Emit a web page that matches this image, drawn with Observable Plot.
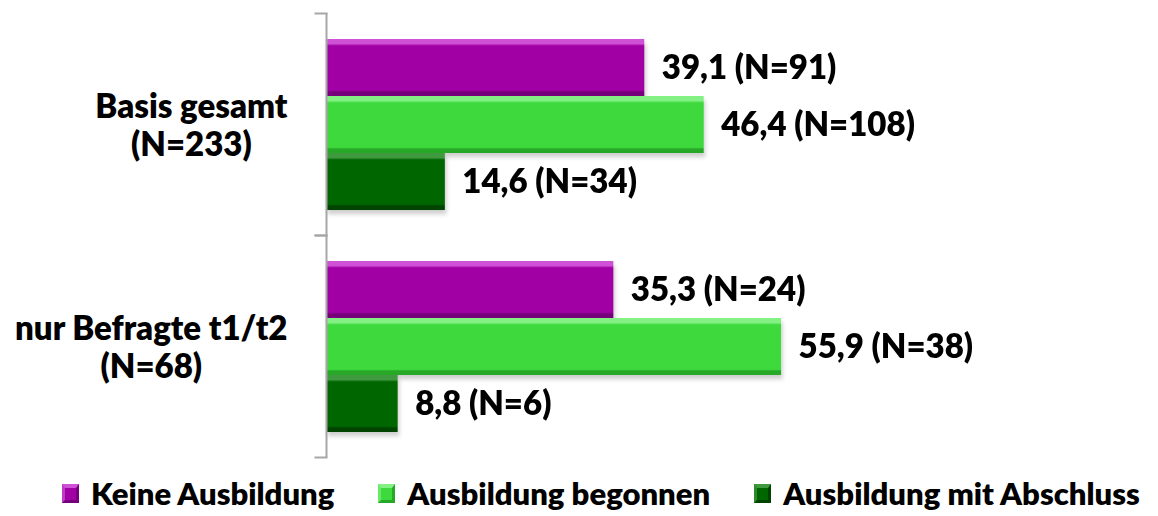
<!DOCTYPE html>
<html><head><meta charset="utf-8">
<script src="https://cdn.jsdelivr.net/npm/d3@7"></script>
<script src="https://cdn.jsdelivr.net/npm/@observablehq/plot@0.6"></script>
<style>
body{margin:0;background:#fff;font-family:Lato,"Open Sans",sans-serif;}
#chart{width:1158px;height:470px;}
#legend{display:flex;align-items:center;height:46px;padding-left:62px;gap:44px;font-weight:800;font-size:31px;color:#000;white-space:nowrap;width:1158px;box-sizing:border-box;}
.item{display:flex;align-items:center;gap:12px;flex-shrink:0;}
.sw{box-sizing:border-box;width:17px;height:19px;border-style:solid;border-width:4px 3px 3px 3px;flex-shrink:0;}
</style></head><body>
<div id="chart"></div>
<div id="legend"></div>
<script>
// ---- data ----
const categories = ["Basis gesamt (N=233)", "nur Befragte t1/t2 (N=68)"];
const categoryLines = [["Basis gesamt", "(N=233)"], ["nur Befragte t1/t2", "(N=68)"]];
const series = ["Keine Ausbildung", "Ausbildung begonnen", "Ausbildung mit Abschluss"];
const percentBasis = [39.1, 46.4, 14.6];
const countBasis = [91, 108, 34];
const percentT12 = [35.3, 55.9, 8.8];
const countT12 = [24, 38, 6];

// ---- styles ----
const colors = {
  base: ["#a100a4", "#3dd93d", "#006600"],
  light: ["#cf52d6", "#84f184", "#3f993f"],
  dark: ["#75007a", "#27a827", "#004400"],
  side: ["#c23ac8", "#6ae86a", "#2f8a2f"]
};

const rows = [];
[[percentBasis, countBasis], [percentT12, countT12]].forEach(([p, n], ci) => {
  series.forEach((s, si) => rows.push({category: categories[ci], series: s, si, value: p[si], n: n[si]}));
});

const fmt = v => v.toFixed(1).replace(".", ",");
const gradIds = series.map((s, i) => "grad" + i);
const FS = 33;

const plot = Plot.plot({
  width: 1158, height: 470,
  marginLeft: 326, marginRight: 18, marginTop: 13, marginBottom: 13,
  style: {fontFamily: "Lato, 'Open Sans', sans-serif", background: "#fff", color: "#000"},
  x: {domain: [0, 100], axis: null},
  y: {domain: series, axis: null, paddingInner: 0, paddingOuter: 0.425},
  fy: {domain: categories, padding: 0, label: null, axis: null},
  color: {type: "ordinal", domain: series, range: gradIds.map(id => `url(#${id})`)},
  marks: [
    Plot.barX(rows, {fy: "category", y: "series", x: "value", fill: "#000", fillOpacity: 0.10, dx: 2, dy: 5, ariaDescription: "shadow"}),
    Plot.barX(rows, {fy: "category", y: "series", x: "value", fill: "#000", fillOpacity: 0.10, dx: 1, dy: 3, ariaDescription: "shadow"}),
    Plot.barX(rows, {fy: "category", y: "series", x: "value", fill: "series"}),
    Plot.ruleX(rows, {fy: "category", y: "series", x: () => 0, dx: 3, strokeWidth: 5, stroke: d => colors.side[d.si], strokeOpacity: 0.6, insetTop: 5, insetBottom: 3}),
    Plot.ruleX(rows, {fy: "category", y: "series", x: "value", dx: -2.5, strokeWidth: 5, stroke: d => colors.dark[d.si], strokeOpacity: 0.7, insetTop: 5, insetBottom: 3}),
    Plot.ruleX([0], {stroke: "#a6a6a6", strokeWidth: 2}),
    Plot.frame({anchor: "top", stroke: "#a6a6a6", strokeWidth: 2, insetLeft: -11, insetRight: 814}),
    Plot.frame({anchor: "bottom", stroke: "#a6a6a6", strokeWidth: 2, insetLeft: -11, insetRight: 814}),
    Plot.text(rows, {fy: "category", y: "series", x: "value", text: d => `${fmt(d.value)} (N=${d.n})`, dx: 17, textAnchor: "start", fontSize: FS, fontWeight: 800, fill: "#000"}),
    Plot.axisFy({anchor: "left", tickSize: 0, tickPadding: 39, fontSize: FS, fontWeight: 800, lineHeight: 1.18, fill: "#000", label: null,
      tickFormat: c => categoryLines[categories.indexOf(c)].join("\n"), ariaDescription: "catlabels"})
  ]
});

document.getElementById("chart").appendChild(plot);

// gradient defs (vertical bevel shading)
const svg = d3.select(plot);
const defs = svg.insert("defs", ":first-child");
series.forEach((s, i) => {
  const g = defs.append("linearGradient").attr("id", gradIds[i]).attr("x1", 0).attr("y1", 0).attr("x2", 0).attr("y2", 1);
  [[0, colors.light[i]], [0.08, colors.light[i]], [0.12, colors.base[i]], [0.9, colors.base[i]], [0.93, colors.dark[i]], [1, colors.dark[i]]]
    .forEach(([o, c]) => g.append("stop").attr("offset", o).attr("stop-color", c));
});
const blur = defs.append("filter").attr("id", "blur").attr("x", "-10%").attr("y", "-10%").attr("width", "120%").attr("height", "130%");
blur.append("feGaussianBlur").attr("stdDeviation", 2);
svg.selectAll("g[aria-description='shadow']").attr("filter", "url(#blur)");

// center each category label's lines under each other, block right-aligned
svg.selectAll("g[aria-description='catlabels'] text").each(function () {
  const tspans = this.querySelectorAll("tspan");
  let w = 0;
  if (tspans.length) tspans.forEach(t => { w = Math.max(w, t.getComputedTextLength()); });
  else w = this.getComputedTextLength();
  this.setAttribute("text-anchor", "middle");
  this.setAttribute("transform", (this.getAttribute("transform") || "") + ` translate(${-w / 2},0)`);
});

// legend
const legend = d3.select("#legend");
series.forEach((s, i) => {
  const it = legend.append("div").attr("class", "item");
  it.append("div").attr("class", "sw")
    .style("background", colors.base[i])
    .style("border-color", `${colors.light[i]} ${colors.dark[i]} ${colors.dark[i]} ${colors.side[i]}`);
  it.append("span").text(s);
});
</script>
</body></html>
